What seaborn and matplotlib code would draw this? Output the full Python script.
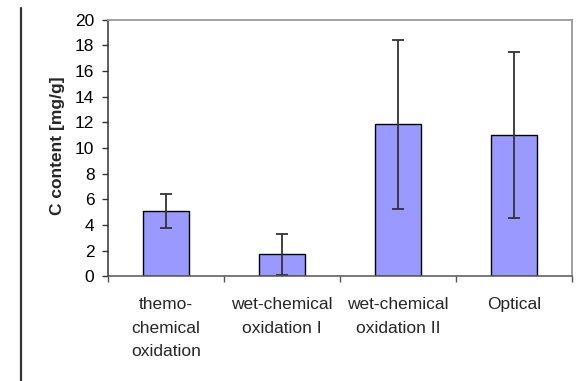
import matplotlib
matplotlib.use("Agg")
import matplotlib.pyplot as plt
from matplotlib.lines import Line2D
import seaborn as sns
import pandas as pd

categories = ["themo-\nchemical\noxidation", "wet-chemical\noxidation I",
              "wet-chemical\noxidation II", "Optical"]
c_content = [5.1, 1.7, 11.85, 11.0]
c_error = [1.35, 1.6, 6.6, 6.45]
y_ticks = [0, 2, 4, 6, 8, 10, 12, 14, 16, 18, 20]

sns.set_theme(style="white")
plt.rcParams["font.family"] = ["Liberation Sans", "DejaVu Sans"]

fig = plt.figure(figsize=(5.79, 3.81), dpi=100)
ax = fig.add_axes([108 / 579, 1 - 276.3 / 381, 464 / 579, 256.6 / 381])

df = pd.DataFrame({"method": categories, "c": c_content})
sns.barplot(data=df, x="method", y="c", ax=ax, color="#9999FF",
            saturation=1, width=0.4, edgecolor="black", linewidth=1.0)
ax.errorbar(range(len(categories)), c_content, yerr=c_error, fmt="none",
            ecolor="#333333", elinewidth=1.3, capsize=4, capthick=1.3)

ax.set_xlim(-0.5, len(categories) - 0.5)
ax.set_ylim(0, 20)
ax.set_yticks(y_ticks)
ax.set_yticklabels([str(v) for v in y_ticks], fontsize=12.5)

ax.set_xticks(range(len(categories)))
ax.set_xticklabels(categories, fontsize=12.5, linespacing=1.72)
ax.set_xticks([i - 0.5 for i in range(len(categories) + 1)], minor=True)
ax.tick_params(axis="x", which="major", length=0, pad=15)
ax.tick_params(axis="x", which="minor", length=4.3, width=1.0, color="#555555",
               bottom=True)
ax.tick_params(axis="y", which="major", length=4.3, width=1.0, color="#333333",
               left=True, pad=5.5, labelcolor="black")

ax.set_xlabel("")
ax.set_ylabel("C content [mg/g]", fontsize=12.5, fontweight="bold")
ax.yaxis.set_label_coords(-0.093, 0.51)

for side in ("top", "right"):
    ax.spines[side].set_color("#999999")
    ax.spines[side].set_linewidth(1.3)
ax.spines["left"].set_color("#333333")
ax.spines["bottom"].set_color("#555555")
for side in ("left", "bottom"):
    ax.spines[side].set_linewidth(1.1)

# page margin rule on the left
fig.add_artist(Line2D([20.5 / 579, 20.5 / 579], [0, 1 - 8 / 381],
                      transform=fig.transFigure, color="#333333", linewidth=1.6))

fig.savefig("out.png", dpi=100)
